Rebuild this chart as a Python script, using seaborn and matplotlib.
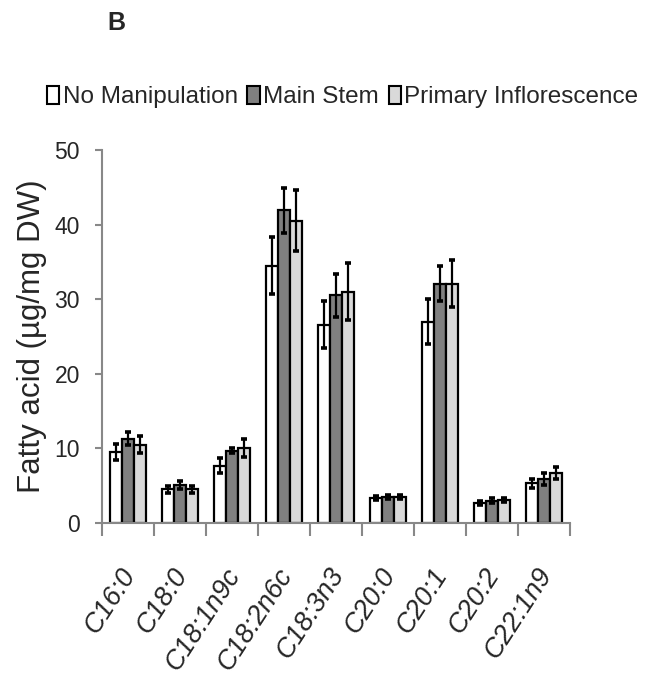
import matplotlib
matplotlib.use("Agg")
import matplotlib.pyplot as plt
import seaborn as sns
import pandas as pd
import numpy as np
from matplotlib.patches import Patch

categories = ["C16:0", "C18:0", "C18:1n9c", "C18:2n6c", "C18:3n3", "C20:0", "C20:1", "C20:2", "C22:1n9"]
groups = ["No Manipulation", "Main Stem", "Primary Inflorescence"]
no_manip = [9.5, 4.5, 7.7, 34.5, 26.6, 3.35, 27.0, 2.7, 5.3]
main_stem = [11.3, 5.1, 9.7, 41.9, 30.5, 3.5, 32.1, 3.0, 5.9]
primary_inf = [10.5, 4.5, 10.05, 40.5, 31.0, 3.5, 32.1, 3.1, 6.7]
err_no = [1.05, 0.5, 1.0, 3.8, 3.2, 0.3, 3.0, 0.3, 0.6]
err_main = [0.9, 0.5, 0.3, 3.0, 2.9, 0.3, 2.35, 0.3, 0.8]
err_prim = [1.1, 0.5, 1.2, 4.1, 3.8, 0.3, 3.1, 0.3, 0.85]
colors = ["#ffffff", "#808080", "#d9d9d9"]

sns.set_theme(style="white")
plt.rcParams['font.family'] = ['Liberation Sans', 'DejaVu Sans']

rows = []
for g, vals, errs in zip(groups, [no_manip, main_stem, primary_inf], [err_no, err_main, err_prim]):
    for c, v, e in zip(categories, vals, errs):
        rows.append({"cat": c, "group": g, "val": v, "err": e})
df = pd.DataFrame(rows)

fig = plt.figure(figsize=(6.54, 6.85), dpi=100)
ax = fig.add_axes([0.156, 0.2365, 0.7156, 0.5445])
sns.barplot(data=df, x="cat", y="val", hue="group", order=categories, hue_order=groups,
            palette=colors, edgecolor="black", linewidth=1.6, width=0.68, errorbar=None,
            legend=False, ax=ax)

# error bars placed at the centres of the seaborn bars
for gi, g in enumerate(groups):
    cont = ax.containers[gi]
    sub = df[df.group == g].set_index("cat").loc[categories]
    xs = [p.get_x() + p.get_width() / 2 for p in cont.patches]
    ax.errorbar(xs, sub["val"].values, yerr=sub["err"].values, fmt="none",
                ecolor="black", elinewidth=1.6, capsize=2.3, capthick=2.6, zorder=5)

ax.set_ylim(0, 50)
ax.set_xlim(-0.5, len(categories) - 0.5)
ax.set_yticks([0, 10, 20, 30, 40, 50])
ax.set_xticks(np.arange(-0.5, len(categories), 1.0), minor=False)
ax.set_xticklabels([])
ax.set_xticks(np.arange(len(categories)), minor=True)
ax.set_xticklabels(categories, minor=True, rotation=57, ha="right", va="center_baseline",
                   rotation_mode="anchor", fontsize=19.5, fontstyle="italic")
ax.tick_params(axis="x", which="minor", length=0, pad=33)
ax.tick_params(axis="x", which="major", length=9, width=1.5, color="#888888", direction="out", bottom=True)
ax.tick_params(axis="y", length=5, width=1.5, color="#888888", direction="out", left=True,
               labelsize=16.5, pad=11)
for s in ["top", "right"]:
    ax.spines[s].set_visible(False)
for s in ["left", "bottom"]:
    ax.spines[s].set_color("#888888")
    ax.spines[s].set_linewidth(1.5)
ax.set_xlabel("")
ax.set_ylabel("Fatty acid (µg/mg DW)", fontsize=22.5, labelpad=5)

handles = [Patch(facecolor=c, edgecolor="black", linewidth=1.5) for c in colors]
fig.legend(handles, groups, loc="center", bbox_to_anchor=(0.524, 0.858), ncol=3, frameon=False,
           fontsize=17.5, handlelength=0.5, handleheight=0.72, handletextpad=0.15,
           columnspacing=0.4, borderaxespad=0, borderpad=0)

fig.text(116 / 654, 1 - 23 / 685, "B", fontsize=18, fontweight="bold", ha="center", va="center")

fig.savefig("out.png", dpi=100)
